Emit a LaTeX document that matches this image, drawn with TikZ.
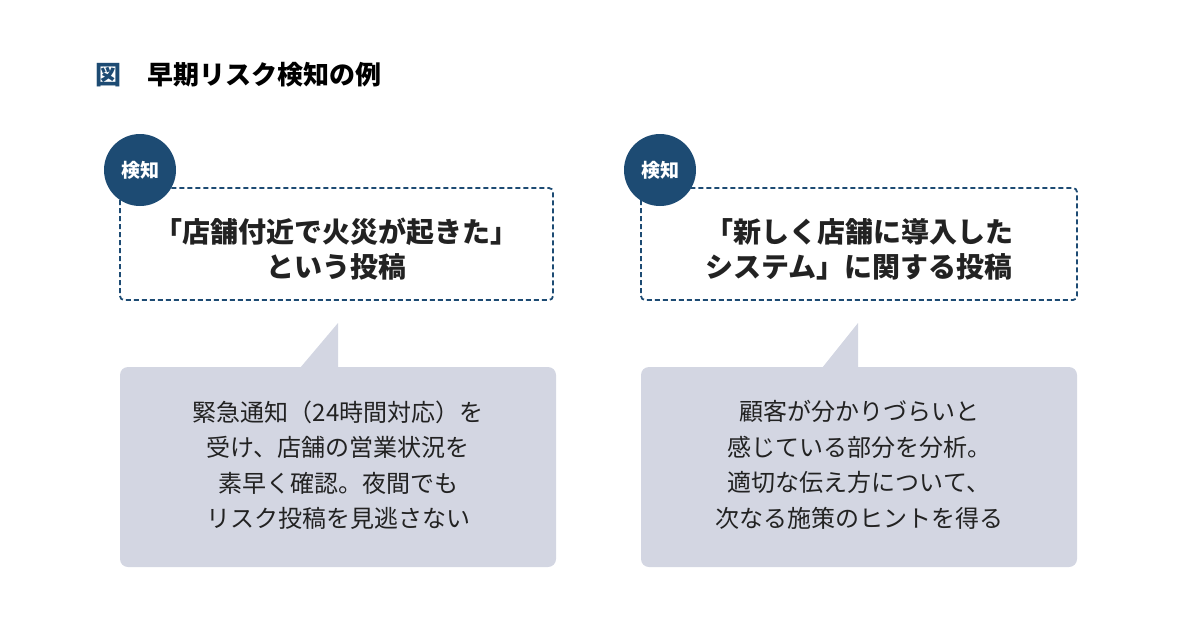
\documentclass[tikz,border=0pt]{standalone}
\usepackage{fontspec}
\setmainfont{Noto Sans CJK JP}
\definecolor{navy}{HTML}{1D4B73}
\definecolor{bub}{HTML}{D3D6E2}
\definecolor{txt}{HTML}{222222}
\begin{document}
\begin{tikzpicture}[x=1pt,y=-1pt,
  dbox/.style={draw=navy,line width=1.8pt,dash pattern=on 5pt off 3pt,rounded corners=4pt},
  badge/.style={circle,fill=navy,minimum size=72pt,inner sep=0pt,text=white,font=\fontsize{19}{22}\selectfont\bfseries},
  head/.style={align=center,text=txt,font=\fontsize{28}{35}\selectfont\bfseries},
  body/.style={align=center,text=txt,font=\fontsize{24}{35.5}\selectfont}]
\useasboundingbox (0,0) rectangle (1200,630);
\node[anchor=west,font=\fontsize{26}{30}\selectfont\bfseries] (title) at (92,75) {\textcolor{navy}{図}\hspace{26pt}早期リスク検知の例};
% left
\draw[dbox] (120,188) rectangle (553,300);
\node[head] (h1) at (336,249) {「店舗付近で火災が起きた」\\という投稿};
\node[badge] (b1) at (140,170) {検知};
\fill[bub,rounded corners=8pt] (120,367) rectangle (556,567);
\fill[bub] (300,368) -- (338,323) -- (338,368) -- cycle;
\node[body] (t1) at (338,465) {緊急通知（24時間対応）を\\受け、店舗の営業状況を\\素早く確認。夜間でも\\リスク投稿を見逃さない};
% right
\draw[dbox] (641,188) rectangle (1077,300);
\node[head] (h2) at (859,249) {「新しく店舗に導入した\\システム」に関する投稿};
\node[badge] (b2) at (660,170) {検知};
\fill[bub,rounded corners=8pt] (641,367) rectangle (1077,567);
\fill[bub] (822,368) -- (858,323) -- (858,368) -- cycle;
\node[body] (t2) at (859,465) {顧客が分かりづらいと\\感じている部分を分析。\\適切な伝え方について、\\次なる施策のヒントを得る};
\end{tikzpicture}
\end{document}
